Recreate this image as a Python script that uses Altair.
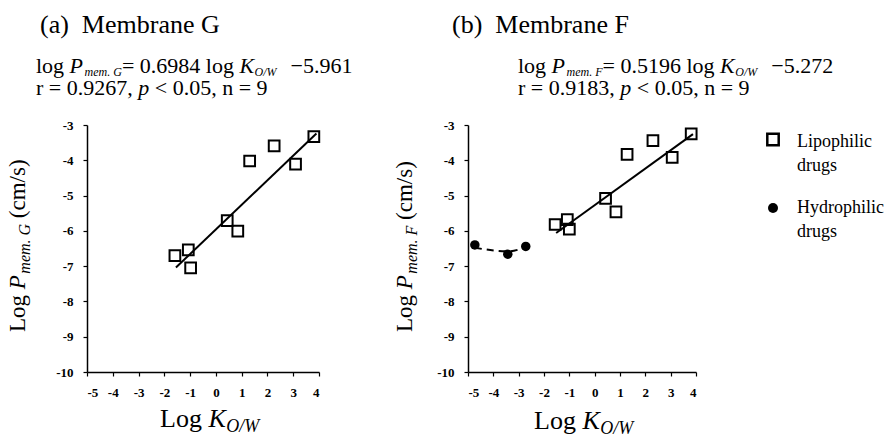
import altair as alt
import pandas as pd

# ---------------- data ----------------
# Panel (a) Membrane G : lipophilic drugs
a_logk = [-1.59, -1.07, -0.98, 0.44, 0.85, 1.31, 2.26, 3.09, 3.80]
a_logp = [-6.70, -6.54, -7.05, -5.71, -6.01, -4.02, -3.59, -4.11, -3.33]
a_fit_x = [-1.55, 3.90]
a_fit_y = [-7.04, -3.24]

# Panel (b) Membrane F : lipophilic and hydrophilic drugs
b_logk = [-1.56, -1.08, -1.00, 0.43, 0.84, 1.28, 2.30, 3.06, 3.81]
b_logp = [-5.82, -5.68, -5.95, -5.08, -5.46, -3.83, -3.44, -3.92, -3.25]
b_fit_x = [-1.52, 3.88]
b_fit_y = [-6.06, -3.26]
hyd_logk = [-4.73, -3.43, -2.72]
hyd_logp = [-6.40, -6.66, -6.44]
hyd_trend_x = [-4.73, -3.40, -2.72]
hyd_trend_y = [-6.48, -6.58, -6.46]

x_ticks = [-5, -4, -3, -2, -1, 0, 1, 2, 3, 4]
y_ticks = [-10, -9, -8, -7, -6, -5, -4, -3]

SERIF = "Liberation Serif"

# Times-compatible advance widths (per 1000 em)
REG = {' ': 250, '(': 333, ')': 333, 'a': 444, 'b': 500, 'c': 444, 'd': 500, 'e': 444,
       'g': 500, 'h': 500, 'i': 278, 'l': 278, 'm': 778, 'n': 500, 'o': 500, 'p': 500,
       'r': 333, 's': 389, 'u': 500, 'y': 500, 'M': 889, 'G': 722, 'F': 556, 'L': 611,
       'P': 556, 'K': 722, 'H': 722, '=': 564, '.': 250, ',': 250, '\u2212': 564,
       '<': 564, '/': 278}
ITAL = {' ': 250, 'P': 611, 'K': 667, 'O': 722, 'W': 833, 'm': 722, 'e': 444, '.': 250,
        'G': 722, 'F': 611, '/': 278, 'p': 500}

ONE = pd.DataFrame({"k": [0]})


def width(text, table):
    return sum(table.get(c, 500) for c in text)


def txt(t, px, py, size, italic=False, angle=0):
    return alt.Chart(ONE).mark_text(
        text=t, font=SERIF, fontSize=size, fontStyle="italic" if italic else "normal",
        align="left", baseline="alphabetic", angle=angle, color="black"
    ).encode(x=alt.value(px), y=alt.value(py))


def run(pieces, x, y, angle=0):
    """pieces: (text, size, italic, shift, gap_before)"""
    layers = []
    pos = 0.0
    for text, size, ital, shift, gap in pieces:
        pos += gap
        table = ITAL if ital else REG
        lead = len(text) - len(text.lstrip(" "))
        t = text.strip(" ")
        wl = lead * table[" "] * size / 1000.0
        if t:
            if angle == 0:
                layers.append(txt(t, x + pos + wl, y + shift, size, ital))
            else:
                layers.append(txt(t, x + shift, y - pos - wl, size, ital, angle))
        pos += width(text, table) * size / 1000.0
    return layers


MAIN, SUB = 22, 12


def equation(mem, slope, icpt, r, x, y1, y2):
    l1 = run([("log ", MAIN, False, 0, 0), ("P", MAIN, True, 0, 0),
              ("mem. " + mem, SUB, True, 3, 1.5),
              ("= " + slope + " log ", MAIN, False, 0, 0), ("K", MAIN, True, 0, 0),
              ("O/W", SUB, True, 3, 0.5), ("  \u2212" + icpt, MAIN, False, 0, 3)], x, y1)
    l2 = run([("r = " + r + ", ", MAIN, False, 0, 0), ("p", MAIN, True, 0, 0),
              (" < 0.05, n = 9", MAIN, False, 0, 0)], x, y2)
    return l1 + l2


def ytitle(mem, x, y):
    return run([("Log ", 23, False, 0, 0), ("P", 23, True, 0, 0),
                ("mem. " + mem, 16, True, 5, 1.5), (" (cm/s)", 23, False, 0, 0)],
               x, y, angle=270)


def xtitle(x, y):
    return run([("Log ", 26, False, 0, 0), ("K", 26, True, 0, 0),
                ("O/W", 18, True, 5, 0.5)], x, y)


def ptitle(letter, name, x, y):
    return run([("(" + letter + ")", 26, False, 0, 0),
                ("  Membrane " + name, 26, False, 0, 0)], x, y)


xs = alt.Scale(domain=[-5, 4], nice=False, zero=False)
ys = alt.Scale(domain=[-10, -3], nice=False, zero=False)
AX = dict(title=None, labelExpr="toString(datum.value)", labelFont=SERIF,
          labelFontWeight=700, labelFontSize=13, labelColor="black", labelPadding=10,
          domainColor="black", domainWidth=1.5, tickColor="black", tickWidth=1.2,
          tickSize=4, grid=False)
xax = alt.Axis(values=x_ticks, **AX)
yax = alt.Axis(values=y_ticks, **AX)

W_A, W_B, H = 232, 228, 247


def enc(ch):
    return ch.encode(x=alt.X("logk:Q", scale=xs, axis=xax),
                     y=alt.Y("logp:Q", scale=ys, axis=yax))


# ---------------- panel (a) ----------------
dfa = pd.DataFrame({"logk": a_logk, "logp": a_logp})
dfa_fit = pd.DataFrame({"logk": a_fit_x, "logp": a_fit_y})

a_fit = enc(alt.Chart(dfa_fit).mark_line(color="black", strokeWidth=2))
a_pts = enc(alt.Chart(dfa).mark_point(shape="square", filled=False, color="black",
                                      size=115, strokeWidth=2, opacity=1))
anchor = alt.Chart(ONE).mark_rule(strokeOpacity=0, strokeWidth=0).encode(
    x=alt.value(-87), x2=alt.value(-86), y=alt.value(-125), y2=alt.value(-124))

a_text = (ptitle("a", "G", -47, -92)
          + equation("G", "0.6984", "5.961", "0.9267", -51, -52, -30)
          + ytitle("G", -62, 207)
          + xtitle(73, 302))

panel_a = alt.layer(a_fit, a_pts, anchor, *a_text).properties(width=W_A, height=H)

# ---------------- panel (b) ----------------
dfb = pd.DataFrame({"logk": b_logk, "logp": b_logp})
dfb_fit = pd.DataFrame({"logk": b_fit_x, "logp": b_fit_y})
dfh = pd.DataFrame({"logk": hyd_logk, "logp": hyd_logp})
dfh_tr = pd.DataFrame({"logk": hyd_trend_x, "logp": hyd_trend_y})

b_fit = enc(alt.Chart(dfb_fit).mark_line(color="black", strokeWidth=2))
h_tr = enc(alt.Chart(dfh_tr).mark_line(color="black", strokeWidth=2, strokeDash=[7, 5],
                                       interpolate="monotone"))
b_pts = enc(alt.Chart(dfb).mark_point(shape="square", filled=False, color="black",
                                      size=115, strokeWidth=2, opacity=1))
h_pts = enc(alt.Chart(dfh).mark_point(shape="circle", filled=True, color="black",
                                      size=90, opacity=1))

leg_sq = alt.Chart(ONE).mark_point(shape="square", filled=False, color="black",
                                   size=130, strokeWidth=2.5, opacity=1).encode(
    x=alt.value(305), y=alt.value(14.5))
leg_ci = alt.Chart(ONE).mark_point(shape="circle", filled=True, color="black",
                                   size=100, opacity=1).encode(
    x=alt.value(305), y=alt.value(83))
leg_txt = [txt("Lipophilic", 329, 22, 18), txt("drugs", 329, 46, 18),
           txt("Hydrophilic", 329, 88, 18), txt("drugs", 329, 112, 18)]

b_text = (ptitle("b", "F", -16, -92)
          + equation("F", "0.5196", "5.272", "0.9183", 50, -52, -30)
          + ytitle("F", -56, 207)
          + xtitle(66, 304))

panel_b = alt.layer(h_tr, b_fit, b_pts, h_pts, leg_sq, leg_ci, *leg_txt, *b_text).properties(
    width=W_B, height=H)

chart = alt.hconcat(panel_a, panel_b, spacing=149, bounds="flush").properties(
    padding=0, background="white"
).configure_view(stroke=None)

chart.save("out.html", embed_options={"renderer": "svg", "actions": False})
